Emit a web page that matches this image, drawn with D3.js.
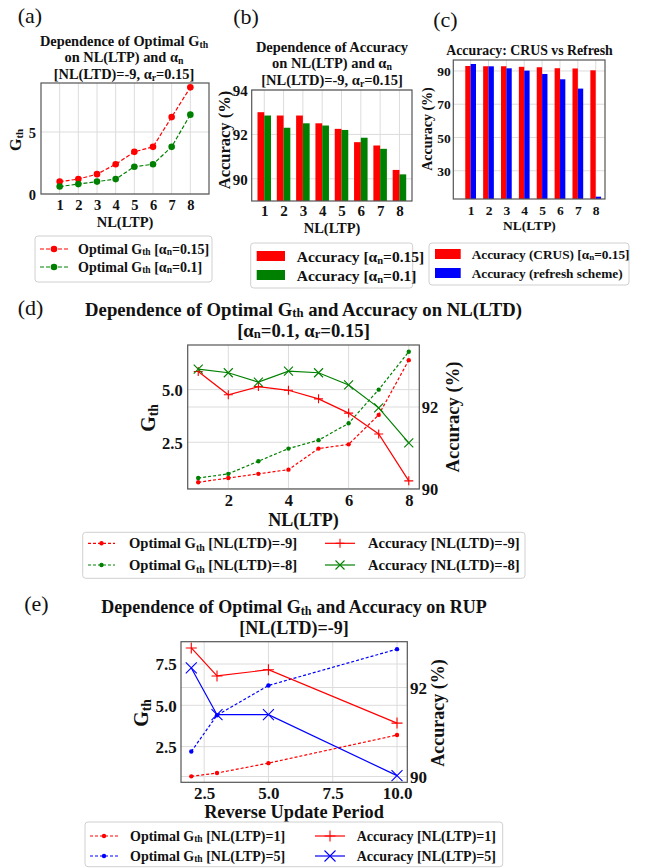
<!DOCTYPE html>
<html><head><meta charset="utf-8">
<script src="https://cdn.jsdelivr.net/npm/d3@7"></script>
<style>body{margin:0;background:#fff}svg{display:block}text{font-family:"Liberation Serif","Times New Roman","DejaVu Serif",serif;fill:#111}</style>
</head><body><svg id="c" width="650" height="868"></svg>
<script>
// ---------- data ----------
const nlLTP = [1,2,3,4,5,6,7,8];
const gthAlpha015 = [1.0,1.2,1.6,2.4,3.4,3.8,6.2,8.6];
const gthAlpha01 = [0.6,0.8,1.0,1.2,2.2,2.4,3.8,6.4];
const accAlpha015 = [93.0,92.85,92.85,92.5,92.25,91.65,91.5,90.4];
const accAlpha01 = [92.85,92.3,92.5,92.4,92.2,91.85,91.35,90.2];
const accCRUS = [93.0,92.85,92.85,92.5,92.25,91.65,91.5,90.4];
const accRefresh = [94.2,92.8,91.6,90.2,88.2,85.0,79.4,14.4];
const gthLTD9 = [0.6,0.8,1.0,1.2,2.2,2.4,3.8,6.4];
const gthLTD8 = [0.8,1.0,1.6,2.2,2.6,3.4,5.0,6.8];
const accLTD9 = [92.87,92.3,92.5,92.41,92.2,91.85,91.34,90.19];
const accLTD8 = [92.93,92.84,92.61,92.88,92.84,92.54,91.98,91.12];
const rup = [2,3,5,10];
const gthLTP1 = [0.7,0.9,1.5,3.2];
const gthLTP5 = [2.2,4.4,6.2,8.4];
const accLTP1 = [92.89,92.26,92.40,91.20];
const accLTP5 = [92.44,91.39,91.39,90.02];
const ticksA = {x:[1,2,3,4,5,6,7,8], y:[0,5]};
const ticksB = {x:[1,2,3,4,5,6,7,8], y:[90,92,94]};
const ticksC = {x:[1,2,3,4,5,6,7,8], y:[30,50,70,90]};
const ticksD = {x:[2,4,6,8], yl:[2.5,5.0], yr:[90,92]};
const ticksE = {x:[2.5,5.0,7.5,10.0], yl:[2.5,5.0,7.5], yr:[90,92]};

const RED='#ff0000', GREEN='#008000', BLUE='#0000ff';
const FONT='"Liberation Serif","Times New Roman","DejaVu Serif",serif';
const svg = d3.select('#c');

function rich(sel, str, size){
  const re=/_\{([^}]*)\}/g; let last=0,m; const segs=[];
  while((m=re.exec(str))){ if(m.index>last) segs.push([str.slice(last,m.index),0]); segs.push([m[1],1]); last=re.lastIndex; }
  if(last<str.length) segs.push([str.slice(last),0]);
  let sub=false;
  segs.forEach(([t,s])=>{
    const ts=sel.append('tspan').text(t);
    if(s){ ts.attr('font-size',size*0.68).attr('dy',size*0.24); sub=true; }
    else if(sub){ ts.attr('dy',-size*0.24); sub=false; }
  });
  return sel;
}
function txt(x,y,str,size,opt={}){
  const t=svg.append('text').attr('x',x).attr('y',y).attr('font-size',size).attr('font-family',FONT)
    .attr('font-weight',opt.normal?'normal':'bold').attr('text-anchor',opt.anchor||'middle')
    .attr('dominant-baseline','central');
  if(opt.rot) t.attr('transform',`rotate(-90,${x},${y})`);
  return rich(t,str,size);
}

function frame(o){
  const g=svg.append('g');
  const x=d3.scaleLinear().domain(o.xd).range([o.l,o.r]);
  const y=d3.scaleLinear().domain(o.yd).range([o.b,o.t]);
  const y2=o.y2d?d3.scaleLinear().domain(o.y2d).range([o.b,o.t]):null;
  const grid=g.append('g').attr('stroke','#dcdcdc').attr('stroke-width',1);
  o.xt.forEach(v=>grid.append('line').attr('x1',x(v)).attr('x2',x(v)).attr('y1',o.t).attr('y2',o.b));
  o.yt.forEach(v=>grid.append('line').attr('y1',y(v)).attr('y2',y(v)).attr('x1',o.l).attr('x2',o.r));
  if(y2) o.y2t.forEach(v=>grid.append('line').attr('y1',y2(v)).attr('y2',y2(v)).attr('x1',o.l).attr('x2',o.r));
  const plot=g.append('g');
  const fs=o.fs;
  const style=s=>s.attr('font-size',fs).attr('font-weight','bold').attr('font-family',FONT).attr('fill','#111');
  const ax=g.append('g').attr('transform',`translate(0,${o.b})`)
    .call(d3.axisBottom(x).tickValues(o.xt).tickSize(0).tickFormat(o.xf||d3.format('d')));
  ax.select('.domain').remove();
  style(ax.selectAll('text').attr('y',o.xo).attr('dy','0.35em'));
  const ay=g.append('g').attr('transform',`translate(${o.l},0)`)
    .call(d3.axisLeft(y).tickValues(o.yt).tickSize(0).tickFormat(o.yf||d3.format('d')));
  ay.select('.domain').remove();
  style(ay.selectAll('text').attr('x',-o.yo).attr('dy','0.35em'));
  if(y2){
    const ar=g.append('g').attr('transform',`translate(${o.r},0)`)
      .call(d3.axisRight(y2).tickValues(o.y2t).tickSize(0).tickFormat(d3.format('d')));
    ar.select('.domain').remove();
    style(ar.selectAll('text').attr('x',o.y2o).attr('dy','0.35em'));
  }
  g.append('rect').attr('x',o.l).attr('y',o.t).attr('width',o.r-o.l).attr('height',o.b-o.t)
    .attr('fill','none').attr('stroke','#555').attr('stroke-width',1.2);
  return {x,y,y2,plot};
}

function dashedSeries(P,xs,ys,yS,color,dash,r){
  const line=d3.line().x((d,i)=>P.x(xs[i])).y(d=>yS(d));
  P.plot.append('path').datum(ys).attr('d',line).attr('fill','none').attr('stroke',color)
    .attr('stroke-width',1.2).attr('stroke-dasharray',dash);
  P.plot.selectAll(null).data(ys).join('circle').attr('cx',(d,i)=>P.x(xs[i])).attr('cy',d=>yS(d))
    .attr('r',r).attr('fill',color);
}
function markerPath(type,s){
  return type==='+'?`M${-s},0H${s}M0,${-s}V${s}`:`M${-s},${-s}L${s},${s}M${-s},${s}L${s},${-s}`;
}
function solidSeries(P,xs,ys,yS,color,type,s){
  const line=d3.line().x((d,i)=>P.x(xs[i])).y(d=>yS(d));
  P.plot.append('path').datum(ys).attr('d',line).attr('fill','none').attr('stroke',color).attr('stroke-width',1.2);
  P.plot.selectAll(null).data(ys).join('path').attr('transform',(d,i)=>`translate(${P.x(xs[i])},${yS(d)})`)
    .attr('d',markerPath(type,s)).attr('stroke',color).attr('stroke-width',1.1).attr('fill','none');
}
function bars(P,xs,ys,off,w,color){
  P.plot.selectAll(null).data(ys).join('rect')
    .attr('x',(d,i)=>P.x(xs[i]+off-w/2)).attr('width',(d,i)=>P.x(xs[i]+off+w/2)-P.x(xs[i]+off-w/2))
    .attr('y',d=>P.y(d)).attr('height',d=>P.y(P.y.domain()[0])-P.y(d)).attr('fill',color);
}
function legendBox(x,y,w,h){
  svg.append('rect').attr('x',x).attr('y',y).attr('width',w).attr('height',h).attr('rx',3)
    .attr('fill','#fff').attr('stroke','#d0d0d0').attr('stroke-width',1);
}
function legLine(x1,x2,y,color,dash,mk,r){
  svg.append('line').attr('x1',x1).attr('x2',x2).attr('y1',y).attr('y2',y).attr('stroke',color)
    .attr('stroke-width',1.2).attr('stroke-dasharray',dash||null);
  const cx=(x1+x2)/2;
  if(mk==='o') svg.append('circle').attr('cx',cx).attr('cy',y).attr('r',r).attr('fill',color);
  else if(mk) svg.append('path').attr('transform',`translate(${cx},${y})`).attr('d',markerPath(mk,r))
    .attr('stroke',color).attr('stroke-width',1.1).attr('fill','none');
}
function legPatch(x1,x2,y,color){
  svg.append('rect').attr('x',x1).attr('y',y-5).attr('width',x2-x1).attr('height',10).attr('fill',color);
}

// ---------- panel (a) ----------
txt(30,15,'(a)',22,{normal:true});
txt(124,40.5,'Dependence of Optimal G_{th}',14.4);
txt(124,57,'on NL(LTP) and α_{n}',14.4);
txt(124,74,'[NL(LTD)=-9, α_{r}=0.15]',14.4);
const PA=frame({l:41,r:209,t:83,b:194,xd:[0,9],yd:[0,8.95],xt:ticksA.x,yt:ticksA.y,fs:14.5,xo:11,yo:5});
dashedSeries(PA,nlLTP,gthAlpha015,PA.y,RED,'4,2',3.3);
dashedSeries(PA,nlLTP,gthAlpha01,PA.y,GREEN,'4,2',3.3);
txt(15,140,'G_{th}',16,{rot:true});
txt(125,221.5,'NL(LTP)',14.5);
legendBox(35,236,177,46);
legLine(40,68,249,RED,'4,2','o',3.3); txt(78,249,'Optimal G_{th} [α_{n}=0.15]',14,{anchor:'start'});
legLine(40,68,267,GREEN,'4,2','o',3.3); txt(78,267,'Optimal G_{th} [α_{n}=0.1]',14,{anchor:'start'});

// ---------- panel (b) ----------
txt(246,16,'(b)',22,{normal:true});
txt(332,46.5,'Dependence of Accuracy',14.5);
txt(332,63,'on NL(LTP) and α_{n}',14.5);
txt(332,79.5,'[NL(LTD)=-9, α_{r}=0.15]',14.5);
const PB=frame({l:251.7,r:412,t:90,b:201,xd:[0.35,8.65],yd:[89,94],xt:ticksB.x,yt:ticksB.y,fs:15,xo:10,yo:4});
bars(PB,nlLTP,accAlpha015,-0.175,0.35,RED);
bars(PB,nlLTP,accAlpha01,0.175,0.35,GREEN);
txt(224,140,'Accuracy (%)',16.5,{rot:true});
txt(332,228,'NL(LTP)',14.5);
legendBox(250.7,243,162,45);
legPatch(256.7,285,256,RED); txt(296.7,256,'Accuracy [α_{n}=0.15]',15.5,{anchor:'start'});
legPatch(256.7,285,275,GREEN); txt(296.7,275,'Accuracy [α_{n}=0.1]',15.5,{anchor:'start'});

// ---------- panel (c) ----------
txt(445.5,19,'(c)',22,{normal:true});
txt(529.5,50,'Accuracy: CRUS vs Refresh',13.8);
const PC=frame({l:453.3,r:605,t:60,b:199,xd:[0.03,8.52],yd:[13,96.6],xt:ticksC.x,yt:ticksC.y,fs:13.5,xo:11,yo:2.5});
bars(PC,nlLTP,accCRUS,-0.15,0.3,RED);
bars(PC,nlLTP,accRefresh,0.15,0.3,BLUE);
txt(427,129,'Accuracy (%)',14,{rot:true});
txt(529.5,225,'NL(LTP)',13.5);
legendBox(429,243,200,42);
legPatch(435,460.7,254,RED); txt(471.7,254,'Accuracy (CRUS) [α_{n}=0.15]',13.3,{anchor:'start'});
legPatch(435,460.7,273,BLUE); txt(471.7,273,'Accuracy (refresh scheme)',13.3,{anchor:'start'});

// ---------- panel (d) ----------
txt(30.5,307,'(d)',22,{normal:true});
txt(303.5,308.5,'Dependence of Optimal G_{th} and Accuracy on NL(LTD)',18.7);
txt(303.5,330,'[α_{n}=0.1, α_{r}=0.15]',18.7);
const PD=frame({l:187.7,r:419.3,t:345,b:489,xd:[0.65,8.35],yd:[0.28,7.12],y2d:[89.99,93.52],
  xt:ticksD.x,yt:ticksD.yl,y2t:ticksD.yr,fs:16.5,xo:11,yo:5,y2o:2.4,yf:d3.format('.1f')});
dashedSeries(PD,nlLTP,gthLTD9,PD.y,RED,'3,2',2.2);
dashedSeries(PD,nlLTP,gthLTD8,PD.y,GREEN,'3,2',2.2);
solidSeries(PD,nlLTP,accLTD9,PD.y2,RED,'+',4.5);
solidSeries(PD,nlLTP,accLTD8,PD.y2,GREEN,'x',4.5);
txt(148,418,'G_{th}',20,{rot:true});
txt(451.7,417,'Accuracy (%)',18.6,{rot:true});
txt(303.5,519.5,'NL(LTP)',18);
legendBox(82.7,532.3,442.3,46);
legLine(88,115,543.3,RED,'3,2','o',2.2); txt(129,543.3,'Optimal G_{th} [NL(LTD)=-9]',14.6,{anchor:'start'});
legLine(88,115,565,GREEN,'3,2','o',2.2); txt(129,565,'Optimal G_{th} [NL(LTD)=-8]',14.6,{anchor:'start'});
legLine(325,355,543.3,RED,null,'+',4.5); txt(368,543.3,'Accuracy [NL(LTD)=-9]',14.6,{anchor:'start'});
legLine(325,355,565,GREEN,null,'x',4.5); txt(368,565,'Accuracy [NL(LTD)=-8]',14.6,{anchor:'start'});

// ---------- panel (e) ----------
txt(36.5,602.7,'(e)',22,{normal:true});
txt(294,606.5,'Dependence of Optimal G_{th} and Accuracy on RUP',18);
txt(294,628,'[NL(LTD)=-9]',18);
const PE=frame({l:181,r:407.3,t:641.7,b:782.3,xd:[1.6,10.4],yd:[0.34,8.85],y2d:[89.87,93.03],
  xt:ticksE.x,yt:ticksE.yl,y2t:ticksE.yr,fs:17,xo:11,yo:4.3,y2o:2.7,xf:d3.format('.1f'),yf:d3.format('.1f')});
dashedSeries(PE,rup,gthLTP1,PE.y,RED,'3,2',2.2);
dashedSeries(PE,rup,gthLTP5,PE.y,BLUE,'3,2',2.2);
solidSeries(PE,rup,accLTP1,PE.y2,RED,'+',5.5);
solidSeries(PE,rup,accLTP5,PE.y2,BLUE,'x',5.5);
txt(141,713,'G_{th}',20,{rot:true});
txt(438.3,713,'Accuracy (%)',18,{rot:true});
txt(294,811.5,'Reverse Update Period',18.3);
legendBox(85,822,417.7,44.7);
legLine(90,118,836,RED,'3,2','o',2.2); txt(130,836,'Optimal G_{th} [NL(LTP)=1]',14,{anchor:'start'});
legLine(90,118,856,BLUE,'3,2','o',2.2); txt(130,856,'Optimal G_{th} [NL(LTP)=5]',14,{anchor:'start'});
legLine(315,345,836,RED,null,'+',5.5); txt(356.7,836,'Accuracy [NL(LTP)=1]',14,{anchor:'start'});
legLine(315,345,856,BLUE,null,'x',5.5); txt(356.7,856,'Accuracy [NL(LTP)=5]',14,{anchor:'start'});
</script></body></html>
